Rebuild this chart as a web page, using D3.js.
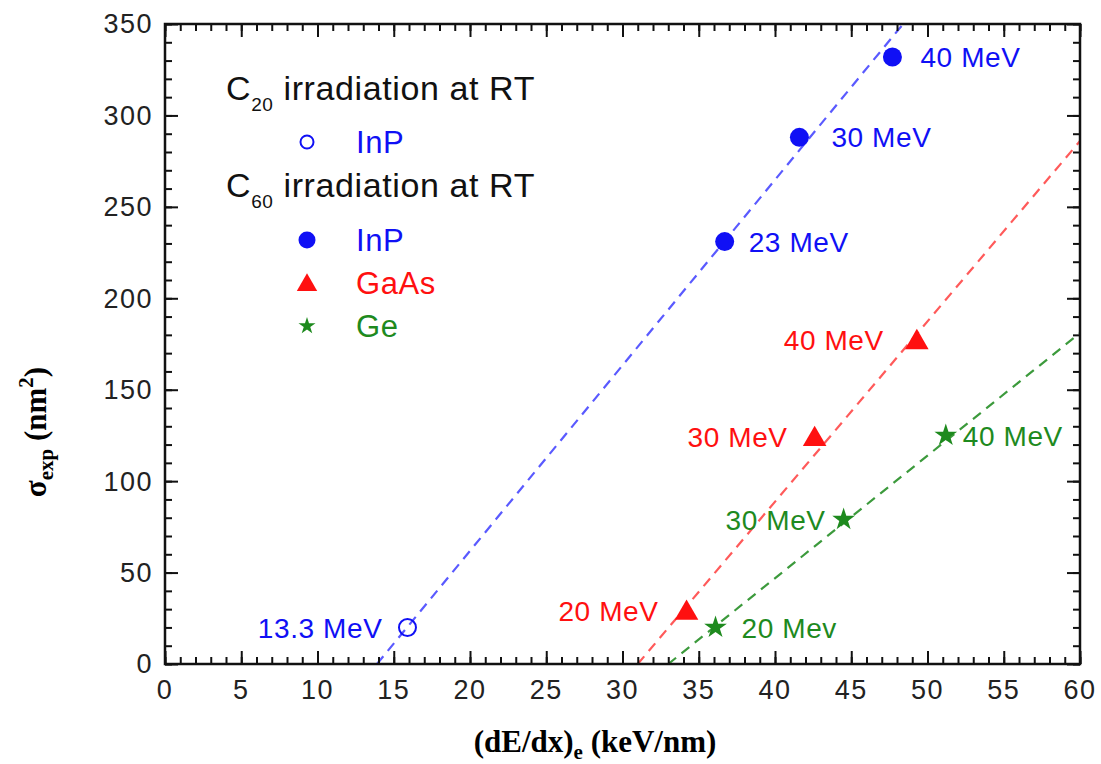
<!DOCTYPE html>
<html>
<head>
<meta charset="utf-8">
<script src="https://cdn.jsdelivr.net/npm/d3@7"></script>
<style>
  body { margin: 0; background: #fff; }
  text { font-family: "Liberation Sans", Arial, sans-serif; }
  .title { font-family: "Liberation Serif", "Times New Roman", serif; font-weight: bold; }
</style>
</head>
<body>
<div id="vis"></div>
<script>
const FRAME_WIDTH = 1101;
const FRAME_HEIGHT = 764;
const MARGINS = {left: 165, right: 21, top: 24, bottom: 100};

// data: x = (dE/dx)e in keV/nm, y = sigma in nm^2
const C20_INP_X = [15.9];
const C20_INP_Y = [20];
const C20_INP_LABELS = ["13.3 MeV"];

const INP_X = [36.7, 41.6, 47.7];
const INP_Y = [231, 288, 332];
const INP_LABELS = ["23 MeV", "30 MeV", "40 MeV"];

const GAAS_X = [34.2, 42.6, 49.3];
const GAAS_Y = [29, 124, 177];
const GAAS_LABELS = ["20 MeV", "30 MeV", "40 MeV"];

const GE_X = [36.1, 44.5, 51.2];
const GE_Y = [20, 79, 125];
const GE_LABELS = ["20 Mev", "30 MeV", "40 MeV"];

// dashed linear fits, as [x, y] end points
const FIT_INP = [[13.9, 0], [48.4, 350]];
const FIT_GAAS = [[31.0, 0], [60, 286]];
const FIT_GE = [[33.0, 0], [60, 181]];

const X_TICKS = d3.range(0, 61, 5);
const Y_TICKS = d3.range(0, 351, 50);
const X_MINOR = d3.range(0, 61, 1);
const Y_MINOR = d3.range(0, 351, 10);

const BLUE = "#1010f5";
const RED = "#ff1010";
const GREEN = "#1e8a1e";

const VIS_WIDTH = FRAME_WIDTH - MARGINS.left - MARGINS.right;
const VIS_HEIGHT = FRAME_HEIGHT - MARGINS.top - MARGINS.bottom;

const X_SCALE = d3.scaleLinear().domain([0, 60]).range([0, VIS_WIDTH]);
const Y_SCALE = d3.scaleLinear().domain([0, 350]).range([VIS_HEIGHT, 0]);

const FRAME = d3.select("#vis")
                .append("svg")
                    .attr("width", FRAME_WIDTH)
                    .attr("height", FRAME_HEIGHT);

const PLOT = FRAME.append("g")
                .attr("transform", "translate(" + MARGINS.left + "," + MARGINS.top + ")");

PLOT.append("clipPath").attr("id", "clip")
    .append("rect").attr("width", VIS_WIDTH).attr("height", VIS_HEIGHT);

// fit lines
const LINE = d3.line().x(d => X_SCALE(d[0])).y(d => Y_SCALE(d[1]));
[[FIT_INP, "#5a5aff"], [FIT_GAAS, "#ff5a5a"], [FIT_GE, "#3c9a3c"]].forEach(([pts, col]) => {
    PLOT.append("path")
        .attr("d", LINE(pts))
        .attr("clip-path", "url(#clip)")
        .attr("fill", "none")
        .attr("stroke", col)
        .attr("stroke-width", 2.2)
        .attr("stroke-dasharray", "10,7");
});

// ticks inward on all four sides
const xb = PLOT.append("g").attr("transform", "translate(0," + VIS_HEIGHT + ")");
xb.call(d3.axisTop(X_SCALE).tickValues(X_MINOR).tickSize(7).tickFormat(""));
xb.append("g").call(d3.axisTop(X_SCALE).tickValues(X_TICKS).tickSize(13).tickFormat(""));

const xt = PLOT.append("g");
xt.call(d3.axisBottom(X_SCALE).tickValues(X_MINOR).tickSize(7).tickFormat(""));
xt.append("g").call(d3.axisBottom(X_SCALE).tickValues(X_TICKS).tickSize(13).tickFormat(""));

const yl = PLOT.append("g");
yl.call(d3.axisRight(Y_SCALE).tickValues(Y_MINOR).tickSize(7).tickFormat(""));
yl.append("g").call(d3.axisRight(Y_SCALE).tickValues(Y_TICKS).tickSize(13).tickFormat(""));

const yr = PLOT.append("g").attr("transform", "translate(" + VIS_WIDTH + ",0)");
yr.call(d3.axisLeft(Y_SCALE).tickValues(Y_MINOR).tickSize(7).tickFormat(""));
yr.append("g").call(d3.axisLeft(Y_SCALE).tickValues(Y_TICKS).tickSize(13).tickFormat(""));

PLOT.selectAll(".domain").remove();
PLOT.selectAll(".tick line").attr("stroke", "#111").attr("stroke-width", 2);

PLOT.append("rect")
    .attr("width", VIS_WIDTH).attr("height", VIS_HEIGHT)
    .attr("fill", "none").attr("stroke", "#111").attr("stroke-width", 2.5);

// tick labels
PLOT.selectAll(".xlab").data(X_TICKS).enter().append("text")
    .attr("x", d => X_SCALE(d))
    .attr("y", VIS_HEIGHT + 35)
    .attr("text-anchor", "middle")
    .attr("font-size", 27)
    .attr("letter-spacing", 1.5)
    .attr("fill", "#222")
    .text(d => d);

PLOT.selectAll(".ylab").data(Y_TICKS).enter().append("text")
    .attr("x", -12)
    .attr("y", d => Y_SCALE(d))
    .attr("dy", "0.35em")
    .attr("text-anchor", "end")
    .attr("font-size", 27)
    .attr("letter-spacing", 1.5)
    .attr("fill", "#222")
    .text(d => d);

// axis titles
const XT = FRAME.append("text").attr("class", "title")
    .attr("x", 595).attr("y", 752)
    .attr("text-anchor", "middle")
    .attr("font-size", 31);
XT.append("tspan").text("(dE/dx)");
XT.append("tspan").attr("font-size", 21).attr("dy", 7).text("e");
XT.append("tspan").attr("dy", -7).text(" (keV/nm)");

const YT = FRAME.append("text").attr("class", "title")
    .attr("transform", "translate(46,432) rotate(-90)")
    .attr("text-anchor", "middle")
    .attr("font-size", 31);
YT.append("tspan").text("σ");
YT.append("tspan").attr("font-size", 21).attr("dy", 7).text("exp");
YT.append("tspan").attr("dy", -7).text(" (nm");
YT.append("tspan").attr("font-size", 21).attr("dy", -13).text("2");
YT.append("tspan").attr("dy", 13).text(")");

// markers
const TRI = d3.symbol().type(d3.symbolTriangle);
const STAR = d3.symbol().type(d3.symbolStar);

function series(xs, ys, labels, color, draw, offsets) {
    const data = xs.map((x, i) => ({x: x, y: ys[i], label: labels[i], off: offsets[i]}));
    const g = PLOT.append("g");
    data.forEach(d => draw(g, X_SCALE(d.x), Y_SCALE(d.y)));
    g.selectAll("text").data(data).enter().append("text")
        .attr("x", d => X_SCALE(d.x) + d.off)
        .attr("y", d => Y_SCALE(d.y))
        .attr("dy", "0.36em")
        .attr("text-anchor", d => d.off < 0 ? "end" : "start")
        .attr("font-size", 28)
        .attr("letter-spacing", 0.6)
        .attr("fill", color)
        .text(d => d.label);
}

function openCircle(r) {
    return (g, x, y) => g.append("circle").attr("cx", x).attr("cy", y).attr("r", r)
        .attr("fill", "none").attr("stroke", BLUE).attr("stroke-width", 2);
}
function dot(r) {
    return (g, x, y) => g.append("circle").attr("cx", x).attr("cy", y).attr("r", r).attr("fill", BLUE);
}
function tri(s) {
    return (g, x, y) => g.append("path").attr("d", TRI.size(s)()).attr("fill", RED)
        .attr("transform", "translate(" + x + "," + (y + 2) + ")");
}
function star(s) {
    return (g, x, y) => g.append("path").attr("d", STAR.size(s)()).attr("fill", GREEN)
        .attr("transform", "translate(" + x + "," + y + ")");
}

series(C20_INP_X, C20_INP_Y, C20_INP_LABELS, BLUE, openCircle(8.5), [-25]);
series(INP_X, INP_Y, INP_LABELS, BLUE, dot(9.5), [24, 32, 28]);
series(GAAS_X, GAAS_Y, GAAS_LABELS, RED, tri(240), [-28, -27, -33]);
series(GE_X, GE_Y, GE_LABELS, GREEN, star(160), [26, -18, 17]);

// legend
const LEG = FRAME.append("g");
function heading(y, sub) {
    const t = LEG.append("text").attr("x", 226).attr("y", y).attr("font-size", 34)
        .attr("letter-spacing", 0.6).attr("fill", "#111");
    t.append("tspan").text("C");
    t.append("tspan").attr("font-size", 19).attr("dy", 11).text(sub);
    t.append("tspan").attr("dy", -11).text(" irradiation at RT");
}
function entry(y, label, color, draw) {
    draw(LEG, 307, y);
    LEG.append("text").attr("x", 356).attr("y", y).attr("dy", "0.36em")
        .attr("font-size", 31).attr("letter-spacing", 0.6).attr("fill", color).text(label);
}
heading(100, "20");
entry(142, "InP", BLUE, openCircle(6.5));
heading(197, "60");
entry(240, "InP", BLUE, dot(8.5));
entry(283, "GaAs", RED, tri(180));
entry(326, "Ge", GREEN, star(90));
</script>
</body>
</html>
